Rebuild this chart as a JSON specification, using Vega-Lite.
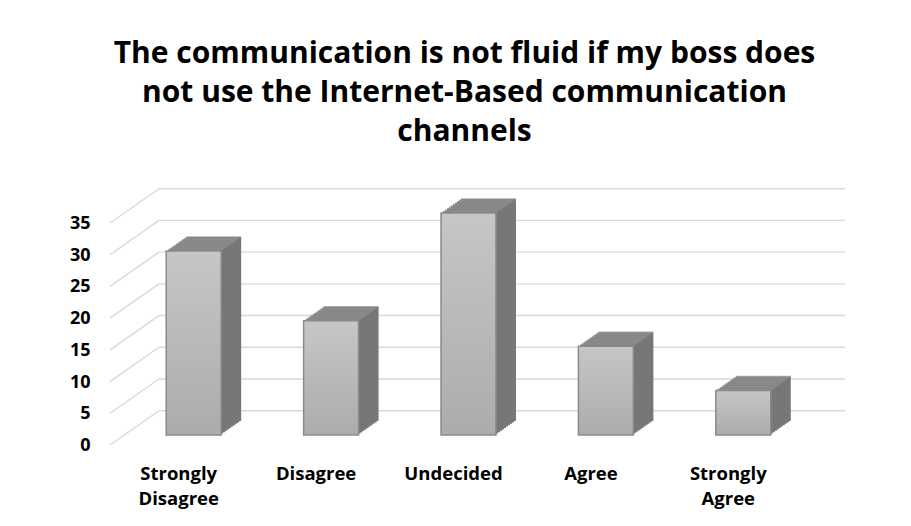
{
  "$schema": "https://vega.github.io/schema/vega-lite/v6.json",
  "width": 687,
  "height": 222,
  "autosize": {"type": "none"},
  "padding": {"left": 125, "top": 213, "right": 99, "bottom": 91},
  "background": "white",
  "config": {
    "view": {"stroke": null},
    "font": "Open Sans",
    "axisY": {"values": [0, 5, 10, 15, 20, 25, 30, 35], "grid": false, "domain": false, "ticks": false,
              "labelOverlap": false, "labelPadding": 35, "labelOffset": 10.5, "labelFont": "Open Sans",
              "labelFontSize": 18, "labelFontWeight": "bold", "labelColor": "#000000", "title": null}
  },
  "title": {
    "text": ["The communication is not fluid if my boss does", "not use the Internet-Based communication", "channels"],
    "anchor": "middle",
    "font": "Open Sans",
    "fontSize": 30,
    "fontWeight": "bold",
    "color": "#000000",
    "lineHeight": 39,
    "offset": 41,
    "dx": -4
  },
  "datasets": {
    "bars": [
      {"response": "Strongly Disagree", "count": 29},
      {"response": "Disagree", "count": 18},
      {"response": "Undecided", "count": 35},
      {"response": "Agree", "count": 14},
      {"response": "Strongly Agree", "count": 7}
    ],
    "grid": [{"v": 0}, {"v": 5}, {"v": 10}, {"v": 15}, {"v": 20}, {"v": 25}, {"v": 30}, {"v": 35}]
  },
  "resolve": {"scale": {"x": "shared", "y": "shared"}},
  "layer": [
    {
      "data": {"name": "grid"},
      "mark": {"type": "rule", "color": "#d9d9d9", "strokeWidth": 1.4, "xOffset": 34, "x2Offset": 33, "yOffset": -24.3},
      "encoding": {
        "x": {"value": 0},
        "x2": {"value": {"expr": "width"}},
        "y": {"field": "v", "type": "quantitative", "scale": {"domain": [0, 35], "nice": false},
              "axis": {"values": [0, 5, 10, 15, 20, 25, 30, 35]}}
      }
    },
    {
      "data": {"name": "grid"},
      "mark": {"type": "rule", "color": "#d9d9d9", "strokeWidth": 1.4, "xOffset": -15, "x2Offset": 34, "yOffset": 10, "y2Offset": -24.3},
      "encoding": {
        "x": {"value": 0},
        "x2": {"value": 0},
        "y": {"field": "v", "type": "quantitative", "axis": {"values": [0, 5, 10, 15, 20, 25, 30, 35]}},
        "y2": {"field": "v"}
      }
    },
    {
      "data": {"name": "bars"},
      "encoding": {
        "x": {"field": "response", "type": "nominal", "sort": null,
              "scale": {"paddingInner": 0.6, "paddingOuter": 0.3},
              "axis": {"title": null, "domain": false, "ticks": false, "labelAngle": 0,
                       "labelPadding": 29, "labelOffset": -15, "labelFont": "Open Sans", "labelFontSize": 18.5,
                       "labelFontWeight": "bold", "labelColor": "#000000", "labelLineHeight": 25,
                       "labelExpr": "split(datum.label, ' ')"}},
        "y": {"field": "count", "type": "quantitative", "axis": {"values": [0, 5, 10, 15, 20, 25, 30, 35]}}
      },
      "layer": [
        {"mark": {"type": "bar", "color": "#777777", "xOffset": 20, "yOffset": -14, "y2Offset": -14}},
        {"mark": {"type": "bar", "color": "#777777", "xOffset": 18, "yOffset": -12.6, "y2Offset": -12.6}},
        {"mark": {"type": "bar", "color": "#777777", "xOffset": 16, "yOffset": -11.2, "y2Offset": -11.2}},
        {"mark": {"type": "bar", "color": "#777777", "xOffset": 14, "yOffset": -9.8, "y2Offset": -9.8}},
        {"mark": {"type": "bar", "color": "#777777", "xOffset": 12, "yOffset": -8.4, "y2Offset": -8.4}},
        {"mark": {"type": "bar", "color": "#777777", "xOffset": 10, "yOffset": -7, "y2Offset": -7}},
        {"mark": {"type": "bar", "color": "#777777", "xOffset": 8, "yOffset": -5.6, "y2Offset": -5.6}},
        {"mark": {"type": "bar", "color": "#777777", "xOffset": 6, "yOffset": -4.2, "y2Offset": -4.2}},
        {"mark": {"type": "bar", "color": "#777777", "xOffset": 4, "yOffset": -2.8, "y2Offset": -2.8}},
        {"mark": {"type": "bar", "color": "#777777", "xOffset": 2, "yOffset": -1.4, "y2Offset": -1.4}},
        {"mark": {"type": "tick", "color": "#919191", "size": 55, "thickness": 1.6, "xOffset": 20, "yOffset": -14}},
        {"mark": {"type": "tick", "color": "#919191", "size": 55, "thickness": 1.6, "xOffset": 18, "yOffset": -12.6}},
        {"mark": {"type": "tick", "color": "#919191", "size": 55, "thickness": 1.6, "xOffset": 16, "yOffset": -11.2}},
        {"mark": {"type": "tick", "color": "#919191", "size": 55, "thickness": 1.6, "xOffset": 14, "yOffset": -9.8}},
        {"mark": {"type": "tick", "color": "#919191", "size": 55, "thickness": 1.6, "xOffset": 12, "yOffset": -8.4}},
        {"mark": {"type": "tick", "color": "#919191", "size": 55, "thickness": 1.6, "xOffset": 10, "yOffset": -7}},
        {"mark": {"type": "tick", "color": "#919191", "size": 55, "thickness": 1.6, "xOffset": 8, "yOffset": -5.6}},
        {"mark": {"type": "tick", "color": "#919191", "size": 55, "thickness": 1.6, "xOffset": 6, "yOffset": -4.2}},
        {"mark": {"type": "tick", "color": "#919191", "size": 55, "thickness": 1.6, "xOffset": 4, "yOffset": -2.8}},
        {"mark": {"type": "tick", "color": "#919191", "size": 55, "thickness": 1.6, "xOffset": 2, "yOffset": -1.4}},
        {"mark": {"type": "bar", "stroke": "#8a8a8a", "strokeWidth": 1.5,
                  "color": {"gradient": "linear", "x1": 0, "y1": 0, "x2": 0, "y2": 1,
                            "stops": [{"offset": 0, "color": "#c6c6c6"}, {"offset": 1, "color": "#acacac"}]}}}
      ]
    }
  ]
}
